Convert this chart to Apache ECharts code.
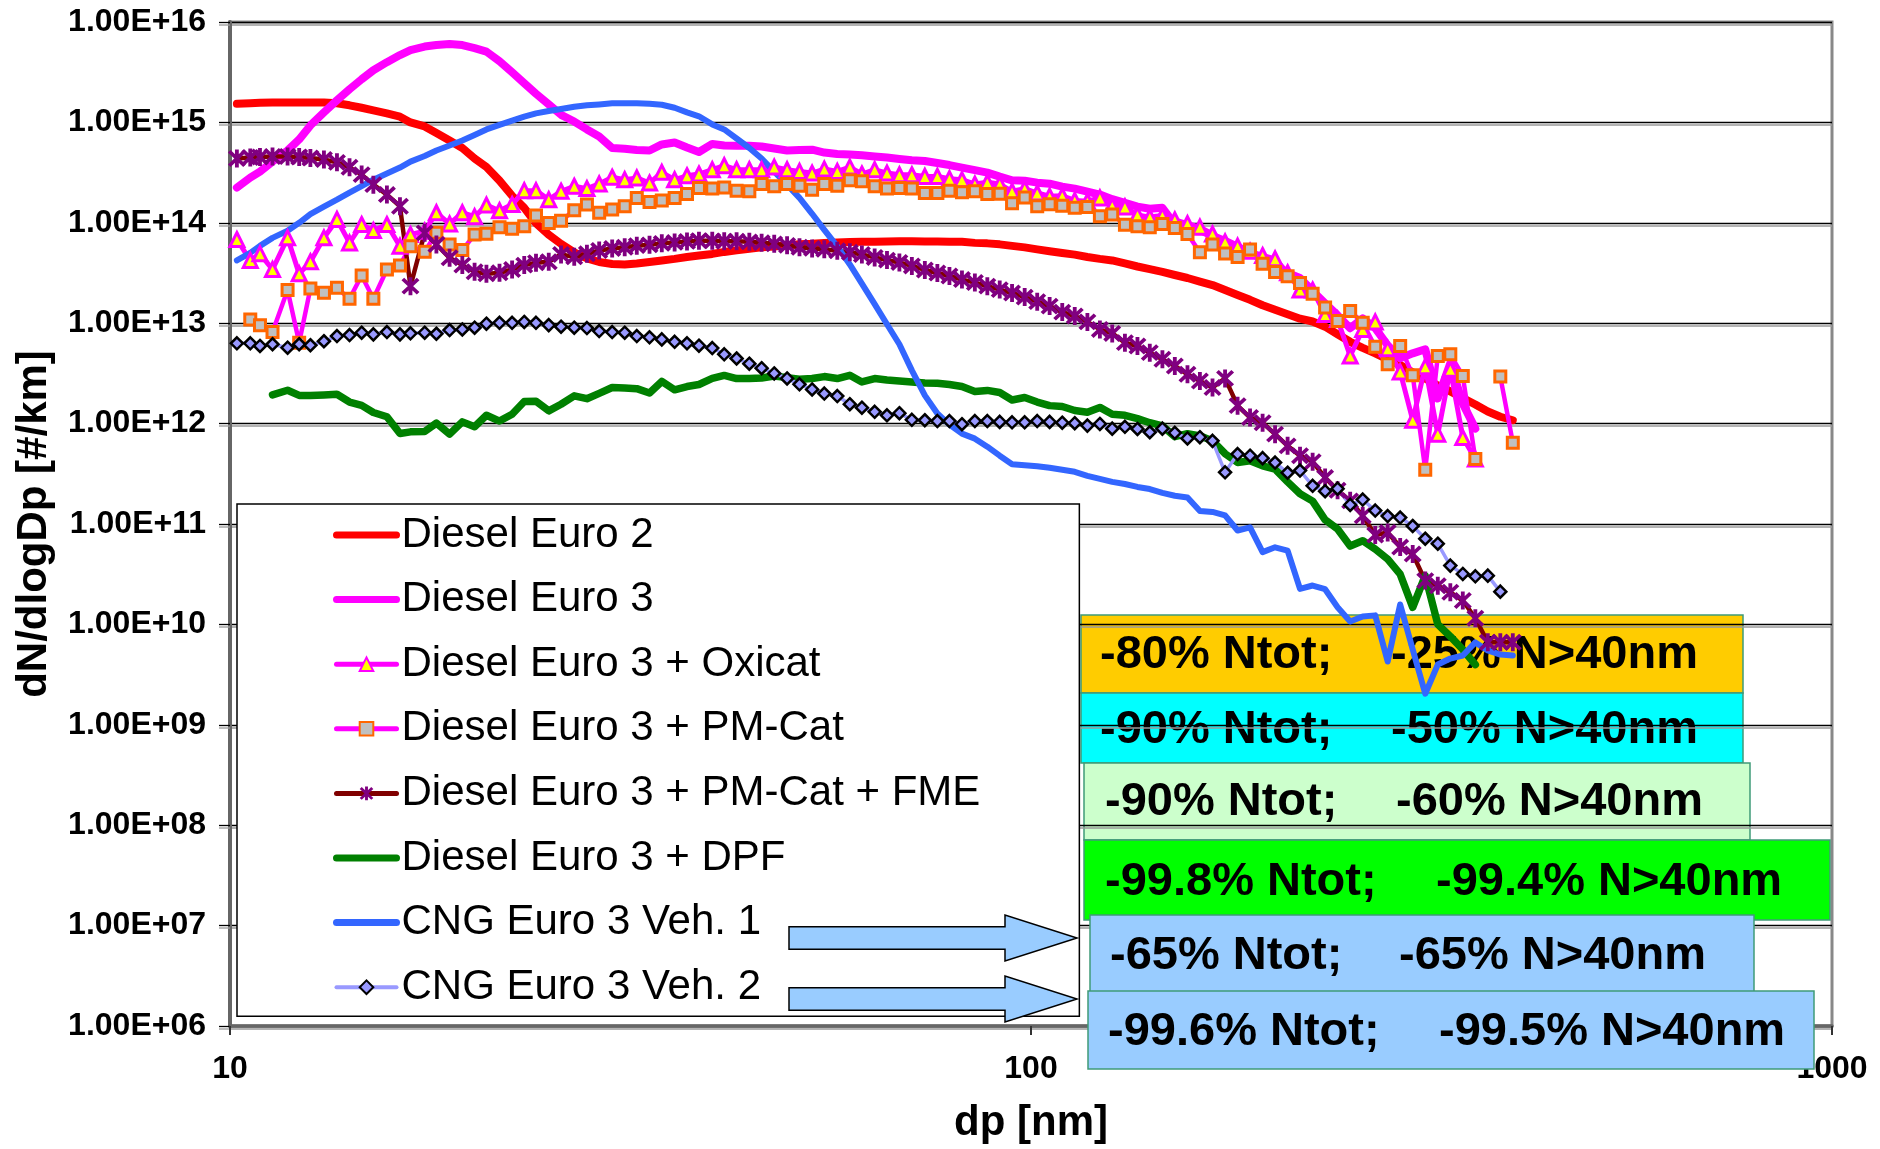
<!DOCTYPE html>
<html>
<head>
<meta charset="utf-8">
<style>
  html, body { margin: 0; padding: 0; background: #fff; }
  #chart { width: 1880px; height: 1149px; }
</style>
<script src="https://cdn.jsdelivr.net/npm/echarts@6/dist/echarts.min.js"></script>
</head>
<body>
<div id="chart"></div>
<script>
// SMPS size channels (nm), 64 per decade
const dp = [
  10.2,10.6,10.9,11.3,11.8,12.2,12.6,13.1,13.6,14.1,
  14.6,15.1,15.7,16.3,16.8,17.5,18.1,18.8,19.5,20.2,
  20.9,21.7,22.5,23.3,24.1,25.0,25.9,26.9,27.9,28.9,
  30.0,31.1,32.2,33.4,34.6,35.9,37.2,38.5,40.0,41.4,
  42.9,44.5,46.1,47.8,49.6,51.4,53.3,55.2,57.3,59.4,
  61.5,63.8,66.1,68.5,71.0,73.7,76.4,79.1,82.0,85.1,
  88.2,91.4,94.7,98.2,101.8,105.5,109.4,113.4,117.6,121.9,
  126.3,131.0,135.8,140.7,145.9,151.2,156.8,162.5,168.5,174.7,
  181.1,187.7,194.6,201.7,209.1,216.7,224.7,232.9,241.4,250.3,
  259.5,269.0,278.8,289.0,299.6,310.6,322.0,333.8,346.0,358.7,
  371.8,385.4,399.5
];

// dN/dlogDp [#/km] per channel (null = no value)
const dieselEuro2 = [
  1.53e15,1.55e15,1.57e15,1.58e15,1.58e15,1.58e15,1.58e15,1.58e15,1.55e15,1.48e15,
  1.40e15,1.32e15,1.23e15,1.14e15,1.0e15,9.12e14,7.85e14,6.61e14,5.56e14,4.37e14,
  3.59e14,2.63e14,1.86e14,1.41e14,9.89e13,7.59e13,6.17e13,5.07e13,4.42e13,4.07e13,
  3.89e13,3.85e13,3.94e13,4.07e13,4.22e13,4.37e13,4.57e13,4.73e13,4.90e13,5.13e13,
  5.31e13,5.50e13,5.69e13,5.82e13,5.96e13,6.10e13,6.17e13,6.31e13,6.38e13,6.43e13,
  6.46e13,6.49e13,6.52e13,6.55e13,6.55e13,6.53e13,6.52e13,6.49e13,6.46e13,6.31e13,
  6.24e13,6.10e13,5.89e13,5.69e13,5.43e13,5.21e13,5.01e13,4.82e13,4.57e13,4.37e13,
  4.22e13,3.94e13,3.67e13,3.45e13,3.24e13,3.02e13,2.82e13,2.60e13,2.40e13,2.14e13,
  1.91e13,1.71e13,1.51e13,1.36e13,1.23e13,1.11e13,1.04e13,9.23e12,7.76e12,6.53e12,
  5.69e12,5.01e12,4.37e12,3.85e12,3.24e12,2.82e12,2.40e12,2.09e12,1.80e12,1.55e12,
  1.32e12,1.17e12,1.08e12
];
const dieselEuro3 = [
  2.24e14,2.82e14,3.24e14,4.07e14,5.25e14,6.76e14,9.33e14,1.26e15,1.66e15,2.14e15,
  2.69e15,3.31e15,3.98e15,4.68e15,5.25e15,5.69e15,5.89e15,6.03e15,5.89e15,5.50e15,
  5.07e15,4.07e15,3.16e15,2.45e15,1.93e15,1.51e15,1.19e15,1.02e15,8.51e14,7.24e14,
  5.56e14,5.47e14,5.31e14,5.25e14,6.03e14,6.31e14,5.62e14,5.07e14,6.10e14,5.89e14,
  5.85e14,5.85e14,5.75e14,5.50e14,5.25e14,5.31e14,5.35e14,5.01e14,4.84e14,4.79e14,
  4.70e14,4.57e14,4.47e14,4.32e14,4.20e14,4.12e14,3.94e14,3.76e14,3.55e14,3.35e14,
  3.16e14,2.88e14,2.65e14,2.63e14,2.51e14,2.45e14,2.29e14,2.19e14,2.04e14,1.91e14,
  1.72e14,1.58e14,1.45e14,1.38e14,1.41e14,9.66e13,9.23e13,8.51e13,7.41e13,6.61e13,
  5.75e13,5.01e13,4.37e13,3.80e13,3.16e13,2.82e13,2.09e13,1.58e13,1.20e13,8.91e12,
  1.12e13,8.91e12,6.03e12,4.47e12,5.01e12,5.50e12,1.78e12,3.98e12,1.58e12,8.91e11,
  null,null,null
];
const oxicat = [
  6.82e13,4.22e13,4.91e13,3.43e13,7.08e13,3.10e13,4.09e13,7.08e13,1.08e14,6.31e13,
  9.62e13,8.38e13,9.62e13,5.85e13,7.64e13,8.26e13,1.26e14,9.75e13,1.26e14,1.15e14,
  1.50e14,1.32e14,1.52e14,2.09e14,2.09e14,1.70e14,2.06e14,2.31e14,2.19e14,2.44e14,
  2.84e14,2.69e14,2.80e14,2.49e14,3.18e14,2.69e14,2.94e14,3.06e14,3.38e14,3.71e14,
  3.38e14,3.38e14,3.38e14,3.59e14,3.38e14,3.25e14,3.13e14,3.43e14,3.25e14,3.59e14,
  3.06e14,3.38e14,3.13e14,3.01e14,3.01e14,2.90e14,2.90e14,2.75e14,2.69e14,2.43e14,
  2.53e14,2.43e14,2.06e14,2.19e14,1.98e14,1.84e14,1.86e14,1.67e14,1.64e14,1.77e14,
  1.48e14,1.44e14,1.20e14,1.14e14,1.18e14,1.07e14,9.82e13,9.04e13,7.74e13,6.46e13,
  5.85e13,5.21e13,4.72e13,4.38e13,3.18e13,2.14e13,2.14e13,1.22e13,1.09e13,4.71e12,
  8.67e12,1.03e13,5.57e12,3.27e12,1.08e12,3.69e12,7.85e11,3.47e12,7.26e11,4.43e11,
  null,null,null
];
const pmCat = [
  null,1.09e13,9.53e12,8.18e12,2.14e13,6.40e12,2.22e13,2.01e13,2.25e13,1.75e13,
  2.99e13,1.75e13,3.43e13,3.76e13,5.85e13,5.14e13,7.94e13,6.08e13,5.35e13,7.64e13,
  7.76e13,9.04e13,8.71e13,9.25e13,1.18e14,9.98e13,1.05e14,1.33e14,1.52e14,1.26e14,
  1.36e14,1.46e14,1.77e14,1.61e14,1.67e14,1.77e14,1.94e14,2.22e14,2.19e14,2.25e14,
  2.09e14,2.06e14,2.43e14,2.31e14,2.43e14,2.34e14,2.14e14,2.43e14,2.34e14,2.65e14,
  2.59e14,2.31e14,2.19e14,2.22e14,2.19e14,1.98e14,1.98e14,2.09e14,2.01e14,2.06e14,
  1.94e14,1.95e14,1.57e14,1.79e14,1.46e14,1.53e14,1.48e14,1.41e14,1.44e14,1.16e14,
  1.21e14,9.59e13,9.25e13,9.04e13,9.75e13,8.89e13,7.74e13,5.09e13,6.07e13,4.94e13,
  4.57e13,5.41e13,3.90e13,3.24e13,2.94e13,2.52e13,1.96e13,1.43e13,1.05e13,1.32e13,
  1.01e13,5.83e12,3.89e12,5.92e12,3.03e12,3.47e11,4.71e12,4.90e12,2.98e12,4.43e11,
  null,2.94e12,6.46e11
];
const pmCatFme = [
  4.37e14,4.47e14,4.52e14,4.57e14,4.57e14,4.52e14,4.42e14,4.27e14,4.00e14,3.57e14,
  3.02e14,2.40e14,1.91e14,1.46e14,2.34e13,7.94e13,6.08e13,4.48e13,3.79e13,3.25e13,
  3.10e13,3.18e13,3.43e13,3.79e13,4.00e13,4.09e13,4.84e13,4.58e13,4.91e13,5.30e13,
  5.55e13,5.71e13,5.92e13,6.03e13,6.24e13,6.38e13,6.53e13,6.64e13,6.61e13,6.55e13,
  6.55e13,6.46e13,6.34e13,6.17e13,5.96e13,5.71e13,5.56e13,5.45e13,5.27e13,5.08e13,
  4.84e13,4.52e13,4.25e13,4.03e13,3.72e13,3.39e13,3.16e13,2.95e13,2.72e13,2.54e13,
  2.34e13,2.16e13,2.00e13,1.82e13,1.64e13,1.48e13,1.29e13,1.18e13,1.03e13,8.67e12,
  7.91e12,6.40e12,5.93e12,5.09e12,4.38e12,3.75e12,3.10e12,2.66e12,2.29e12,2.82e12,
  1.51e12,1.15e12,1.02e12,7.85e11,6.00e11,4.79e11,4.17e11,2.90e11,2.17e11,1.70e11,
  1.21e11,7.76e10,8.24e10,5.89e10,5.02e10,2.73e10,2.43e10,2.09e10,1.73e10,1.15e10,
  6.65e9,6.65e9,6.65e9
];
const dpf = [
  null,null,null,1.93e12,2.15e12,1.91e12,1.91e12,1.93e12,1.96e12,1.64e12,
  1.52e12,1.29e12,1.17e12,7.96e11,8.28e11,8.34e11,1.01e12,7.85e11,1.04e12,9.29e11,
  1.21e12,1.06e12,1.24e12,1.66e12,1.67e12,1.34e12,1.56e12,1.89e12,1.77e12,2.00e12,
  2.29e12,2.26e12,2.23e12,2.02e12,2.63e12,2.17e12,2.34e12,2.45e12,2.82e12,3.02e12,
  2.81e12,2.81e12,2.85e12,2.98e12,2.87e12,2.76e12,2.81e12,2.94e12,2.81e12,3.03e12,
  2.60e12,2.81e12,2.72e12,2.66e12,2.60e12,2.54e12,2.52e12,2.45e12,2.34e12,2.09e12,
  2.14e12,2.04e12,1.72e12,1.82e12,1.64e12,1.51e12,1.48e12,1.35e12,1.30e12,1.45e12,
  1.24e12,1.21e12,1.12e12,1.02e12,9.48e11,7.41e11,7.94e11,7.55e11,6.73e11,5.01e11,
  4.10e11,4.27e11,3.80e11,3.52e11,2.63e11,2.00e11,1.69e11,1.10e11,8.91e10,6.03e10,
  6.82e10,5.62e10,4.47e10,3.16e10,1.48e10,3.06e10,1.0e10,7.59e9,5.62e9,3.98e9,
  null,null,null
];
const cngVeh1 = [
  4.22e13,5.01e13,5.89e13,7.08e13,8.32e13,1.00e14,1.22e14,1.45e14,1.70e14,2.00e14,
  2.32e14,2.69e14,3.09e14,3.55e14,4.07e14,4.62e14,5.25e14,5.89e14,6.61e14,7.50e14,
  8.51e14,9.44e14,1.04e15,1.14e15,1.23e15,1.30e15,1.36e15,1.43e15,1.48e15,1.51e15,
  1.55e15,1.55e15,1.55e15,1.53e15,1.50e15,1.40e15,1.26e15,1.15e15,9.55e14,8.51e14,
  6.92e14,5.56e14,4.37e14,3.24e14,2.40e14,1.77e14,1.23e14,8.51e13,5.82e13,3.85e13,
  2.48e13,1.55e13,9.77e12,6.17e12,3.39e12,1.91e12,1.26e12,9.77e11,7.94e11,7.08e11,
  5.89e11,4.79e11,3.94e11,3.85e11,3.76e11,3.63e11,3.47e11,3.31e11,3.02e11,2.82e11,
  2.63e11,2.50e11,2.34e11,2.23e11,2.04e11,1.91e11,1.84e11,1.35e11,1.32e11,1.22e11,
  8.61e10,9.27e10,5.25e10,5.86e10,5.43e10,2.26e10,2.44e10,2.24e10,1.48e10,1.07e10,
  1.20e10,1.23e10,4.27e9,1.58e10,5.62e9,2.04e9,3.98e9,4.57e9,4.90e9,6.61e9,
  5.50e9,5.01e9,4.90e9
];
const cngVeh2 = [
  6.31e12,6.31e12,5.93e12,6.17e12,5.70e12,6.17e12,6.03e12,6.61e12,7.45e12,7.62e12,
  8.04e12,7.74e12,8.17e12,7.74e12,7.93e12,8.04e12,7.85e12,8.55e12,8.67e12,9.02e12,
  9.89e12,1.01e13,1.01e13,1.03e13,1.01e13,9.57e12,9.23e12,9.02e12,8.95e12,8.36e12,
  8.17e12,8.04e12,7.45e12,7.24e12,6.90e12,6.53e12,6.31e12,5.97e12,5.66e12,4.90e12,
  4.45e12,3.95e12,3.56e12,3.16e12,2.82e12,2.46e12,2.19e12,1.99e12,1.88e12,1.56e12,
  1.44e12,1.31e12,1.21e12,1.27e12,1.09e12,1.08e12,1.06e12,1.06e12,9.86e11,1.06e12,
  1.06e12,1.04e12,1.03e12,1.03e12,1.06e12,1.04e12,1.02e12,1.01e12,9.55e11,9.93e11,
  8.91e11,9.29e11,8.85e11,8.20e11,8.91e11,8.09e11,7.11e11,7.33e11,6.73e11,3.27e11,
  4.97e11,4.79e11,4.53e11,4.09e11,3.24e11,3.41e11,2.40e11,2.12e11,2.25e11,1.55e11,
  1.75e11,1.36e11,1.20e11,1.16e11,9.55e10,7.13e10,6.37e10,3.85e10,3.18e10,3.01e10,
  3.06e10,2.12e10,null
];

const seriesNames = [
  'Diesel Euro 2',
  'Diesel Euro 3',
  'Diesel Euro 3 + Oxicat',
  'Diesel Euro 3 + PM-Cat',
  'Diesel Euro 3 + PM-Cat + FME',
  'Diesel Euro 3 + DPF',
  'CNG Euro 3 Veh. 1',
  'CNG Euro 3 Veh. 2'
];

const yTickLabels = ['1.00E+06','1.00E+07','1.00E+08','1.00E+09','1.00E+10','1.00E+11',
                     '1.00E+12','1.00E+13','1.00E+14','1.00E+15','1.00E+16'];
const xTickLabels = ['10', '100', '1000'];

// reduction notes, one row per box: [total number, number above 40 nm]
const reductionNotes = [
  ['-80% Ntot;',   '-25% N>40nm'],
  ['-90% Ntot;',   '-50% N>40nm'],
  ['-90% Ntot;',   '-60% N>40nm'],
  ['-99.8% Ntot;', '-99.4% N>40nm'],
  ['-65% Ntot;',   '-65% N>40nm'],
  ['-99.6% Ntot;', '-99.5% N>40nm']
];

const FONT = '"Liberation Sans", Arial, Helvetica, sans-serif';
// six-armed star marker (X plus vertical bar)
const ASTERISK = 'path://M8,0H12V20H8Z M3.4,0.6L19.4,16.6L16.6,19.4L0.6,3.4Z M16.6,0.6L19.4,3.4L3.4,19.4L0.6,16.6Z';

function pairs(vals) {
  return dp.map((x, i) => [x, vals[i] == null ? '-' : vals[i]]);
}

function lineSeries(name, vals, line, marker) {
  const s = {
    name: name,
    type: 'line',
    data: pairs(vals),
    silent: true,
    connectNulls: false,
    lineStyle: Object.assign({ cap: 'round', join: 'round' }, line),
    itemStyle: { color: line.color }
  };
  if (marker) {
    s.symbol = marker.symbol;
    s.symbolSize = marker.size;
    s.showSymbol = true;
    s.itemStyle = marker.style;
  } else {
    s.showSymbol = false;
  }
  return s;
}

const series = [
  lineSeries(seriesNames[0], dieselEuro2, { color: '#FF0000', width: 8 }),
  lineSeries(seriesNames[1], dieselEuro3, { color: '#FF00FF', width: 8 }),
  lineSeries(seriesNames[2], oxicat, { color: '#FF00FF', width: 5 },
    { symbol: 'triangle', size: 14, style: { color: '#FFFF00', borderColor: '#FF00FF', borderWidth: 3 } }),
  lineSeries(seriesNames[3], pmCat, { color: '#FF00FF', width: 4.5 },
    { symbol: 'rect', size: 11, style: { color: '#C0C0C0', borderColor: '#FF6600', borderWidth: 3 } }),
  lineSeries(seriesNames[4], pmCatFme, { color: '#800000', width: 4.5 },
    { symbol: ASTERISK, size: 18, style: { color: '#800080' } }),
  lineSeries(seriesNames[5], dpf, { color: '#008000', width: 7.5 }),
  lineSeries(seriesNames[6], cngVeh1, { color: '#3366FF', width: 6 }),
  lineSeries(seriesNames[7], cngVeh2, { color: '#9999FF', width: 3.5 },
    { symbol: 'diamond', size: 12, style: { color: '#9999FF', borderColor: '#000000', borderWidth: 2.5 } })
];

const legendLineWidths = [7, 7, 5, 5, 5, 7, 7, 4];
const legendHasMarker = [false, false, true, true, true, false, false, true];

// annotation boxes: [x, y, w, h, fill, textY, leftX, rightX, z]
const boxLayout = [
  [1081, 615, 662, 78, '#FFCC00', 655, 1100, 1391, -6],
  [1081, 693, 662, 70, '#00FFFF', 730, 1100, 1391, -6],
  [1084, 763, 666, 77, '#CCFFCC', 802, 1105, 1396, -6],
  [1084, 840, 746, 80, '#00FF00', 882, 1105, 1436, 20],
  [1090, 915, 664, 78, '#99CCFF', 956, 1110, 1399, 22],
  [1088, 991, 726, 78, '#99CCFF', 1032, 1108, 1439, 24]
];

const graphics = [];
boxLayout.forEach((b, i) => {
  graphics.push({
    type: 'rect', z: b[8], silent: true,
    shape: { x: b[0], y: b[1], width: b[2], height: b[3] },
    style: { fill: b[4], stroke: '#3f9a78', lineWidth: 1.5 }
  });
  [0, 1].forEach(j => {
    graphics.push({
      type: 'text', z: b[8] + 1, silent: true,
      style: {
        text: reductionNotes[i][j], x: j === 0 ? b[6] : b[7], y: b[5],
        fill: '#000', font: 'bold 47px ' + FONT,
        align: 'left', verticalAlign: 'middle',
        textAlign: 'left', textVerticalAlign: 'middle'
      }
    });
  });
});

// arrows pointing from the CNG legend entries to their boxes
function arrow(cy) {
  return {
    type: 'polygon', z: 30, silent: true,
    shape: { points: [
      [789, cy - 11.3], [1005, cy - 11.3], [1005, cy - 23], [1077, cy],
      [1005, cy + 23], [1005, cy + 11.3], [789, cy + 11.3]
    ] },
    style: { fill: '#99CCFF', stroke: '#000', lineWidth: 1.5 }
  };
}
graphics.push(arrow(938));
graphics.push(arrow(999));

const gridLineStyle = { color: '#000', width: 1.3, shadowColor: '#9a9a9a', shadowOffsetY: 2.5, shadowBlur: 0 };

const option = {
  animation: false,
  backgroundColor: '#fff',
  textStyle: { fontFamily: FONT },
  grid: { left: 230, right: 48, top: 22, bottom: 121, show: true, borderColor: '#888', borderWidth: 3 },
  legend: {
    orient: 'vertical',
    left: 237, top: 504,
    padding: [10, 99, 8, 96],
    itemGap: 22.6,
    itemWidth: 60,
    itemHeight: 17,
    selectedMode: false,
    backgroundColor: '#fff',
    borderColor: '#000',
    borderWidth: 1.5,
    borderRadius: 0,
    textStyle: { fontSize: 42, color: '#000', fontFamily: FONT, lineHeight: 42 },
    data: seriesNames.map((n, i) => {
      const d = { name: n, lineStyle: { width: legendLineWidths[i], cap: 'round' } };
      if (!legendHasMarker[i]) d.itemStyle = { opacity: 0 };
      return d;
    })
  },
  xAxis: {
    type: 'log', logBase: 10, min: 10, max: 1000, interval: 1,
    name: 'dp [nm]', nameLocation: 'middle', nameGap: 76,
    nameTextStyle: { fontSize: 42, fontWeight: 'bold', color: '#000', fontFamily: FONT },
    axisLine: { show: true, lineStyle: { color: '#666', width: 3.5 } },
    axisTick: { show: true, inside: false, length: 9, lineStyle: { color: '#333', width: 2 } },
    minorTick: { show: false },
    splitLine: { show: false },
    axisLabel: {
      fontSize: 32, fontWeight: 'bold', color: '#000', margin: 27, fontFamily: FONT,
      formatter: v => xTickLabels[Math.round(Math.log10(v)) - 1]
    }
  },
  yAxis: {
    type: 'log', logBase: 10, min: 1e6, max: 1e16, interval: 1,
    name: 'dN/dlogDp [#/km]', nameLocation: 'middle', nameGap: 175, nameRotate: 90,
    nameTextStyle: { fontSize: 42, fontWeight: 'bold', color: '#000', fontFamily: FONT },
    axisLine: { show: true, lineStyle: { color: '#666', width: 4 } },
    axisTick: { show: true, inside: false, length: 11, lineStyle: gridLineStyle },
    minorTick: { show: false },
    splitLine: { show: true, lineStyle: gridLineStyle },
    axisLabel: {
      fontSize: 32, fontWeight: 'bold', color: '#000', margin: 24, fontFamily: FONT,
      formatter: v => yTickLabels[Math.round(Math.log10(v)) - 6]
    }
  },
  series: series,
  graphic: graphics
};

const chart = echarts.init(document.getElementById('chart'), null, { renderer: 'canvas' });
chart.setOption(option);
</script>
</body>
</html>
